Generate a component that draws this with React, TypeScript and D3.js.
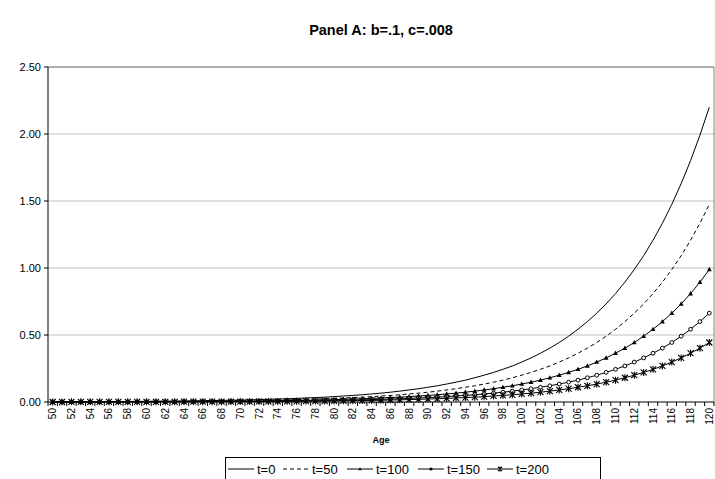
import React from 'react'
import * as d3 from 'd3'

// ages 50..120
const ages = d3.range(50, 121)

const t0 = [0.002, 0.002, 0.002, 0.003, 0.003, 0.003, 0.004, 0.004, 0.004, 0.005, 0.005, 0.006, 0.007, 0.007, 0.008, 0.009, 0.010, 0.011, 0.012, 0.013, 0.015, 0.016, 0.018, 0.020, 0.022, 0.024, 0.027, 0.030, 0.033, 0.036, 0.040, 0.045, 0.049, 0.054, 0.060, 0.066, 0.073, 0.081, 0.090, 0.099, 0.110, 0.121, 0.134, 0.148, 0.163, 0.181, 0.200, 0.221, 0.244, 0.269, 0.298, 0.329, 0.364, 0.402, 0.444, 0.491, 0.543, 0.600, 0.663, 0.732, 0.809, 0.894, 0.989, 1.092, 1.207, 1.334, 1.475, 1.630, 1.801, 1.991, 2.200]

const t50 = [0.001, 0.001, 0.002, 0.002, 0.002, 0.002, 0.002, 0.003, 0.003, 0.003, 0.004, 0.004, 0.004, 0.005, 0.005, 0.006, 0.007, 0.007, 0.008, 0.009, 0.010, 0.011, 0.012, 0.013, 0.015, 0.016, 0.018, 0.020, 0.022, 0.024, 0.027, 0.030, 0.033, 0.036, 0.040, 0.045, 0.049, 0.054, 0.060, 0.066, 0.073, 0.081, 0.090, 0.099, 0.110, 0.121, 0.134, 0.148, 0.163, 0.181, 0.200, 0.221, 0.244, 0.269, 0.298, 0.329, 0.364, 0.402, 0.444, 0.491, 0.543, 0.600, 0.663, 0.732, 0.809, 0.894, 0.989, 1.092, 1.207, 1.334, 1.475]

const t100 = [0.001, 0.001, 0.001, 0.001, 0.001, 0.001, 0.002, 0.002, 0.002, 0.002, 0.002, 0.003, 0.003, 0.003, 0.004, 0.004, 0.004, 0.005, 0.005, 0.006, 0.007, 0.007, 0.008, 0.009, 0.010, 0.011, 0.012, 0.013, 0.015, 0.016, 0.018, 0.020, 0.022, 0.024, 0.027, 0.030, 0.033, 0.036, 0.040, 0.045, 0.049, 0.054, 0.060, 0.066, 0.073, 0.081, 0.090, 0.099, 0.110, 0.121, 0.134, 0.148, 0.163, 0.181, 0.200, 0.221, 0.244, 0.269, 0.298, 0.329, 0.364, 0.402, 0.444, 0.491, 0.543, 0.600, 0.663, 0.732, 0.809, 0.894, 0.989]

const t150 = [0.001, 0.001, 0.001, 0.001, 0.001, 0.001, 0.001, 0.001, 0.001, 0.001, 0.002, 0.002, 0.002, 0.002, 0.002, 0.003, 0.003, 0.003, 0.004, 0.004, 0.004, 0.005, 0.005, 0.006, 0.007, 0.007, 0.008, 0.009, 0.010, 0.011, 0.012, 0.013, 0.015, 0.016, 0.018, 0.020, 0.022, 0.024, 0.027, 0.030, 0.033, 0.036, 0.040, 0.045, 0.049, 0.054, 0.060, 0.066, 0.073, 0.081, 0.090, 0.099, 0.110, 0.121, 0.134, 0.148, 0.163, 0.181, 0.200, 0.221, 0.244, 0.269, 0.298, 0.329, 0.364, 0.402, 0.444, 0.491, 0.543, 0.600, 0.663]

const t200 = [0.000, 0.000, 0.001, 0.001, 0.001, 0.001, 0.001, 0.001, 0.001, 0.001, 0.001, 0.001, 0.001, 0.001, 0.002, 0.002, 0.002, 0.002, 0.002, 0.003, 0.003, 0.003, 0.004, 0.004, 0.004, 0.005, 0.005, 0.006, 0.007, 0.007, 0.008, 0.009, 0.010, 0.011, 0.012, 0.013, 0.015, 0.016, 0.018, 0.020, 0.022, 0.024, 0.027, 0.030, 0.033, 0.036, 0.040, 0.045, 0.049, 0.054, 0.060, 0.066, 0.073, 0.081, 0.090, 0.099, 0.110, 0.121, 0.134, 0.148, 0.163, 0.181, 0.200, 0.221, 0.244, 0.269, 0.298, 0.329, 0.364, 0.402, 0.444]

const seriesNames = ['t=0', 't=50', 't=100', 't=150', 't=200']
const seriesValues = [t0, t50, t100, t150, t200]
const markerTypes = ['none', 'none', 'triangle', 'circle', 'star']
const yTicks = [0, 0.5, 1, 1.5, 2, 2.5]

const W = 715
const H = 479
const font = 'Arial, "Liberation Sans", sans-serif'

const Marker = ({type, x, y, small}: {type: string, x: number, y: number, small?: boolean}) => {
    const s = small ? 0.7 : 1
    if (type === 'triangle') {
        return <path d={`M${x},${y - 2.6 * s}L${x + 2.4 * s},${y + 1.8 * s}L${x - 2.4 * s},${y + 1.8 * s}Z`} fill="#000" />
    }
    if (type === 'circle') {
        if (small) return <circle cx={x} cy={y} r={1.6} fill="#000" />
        return <circle cx={x} cy={y} r={1.9} fill="#fff" stroke="#000" strokeWidth={1} />
    }
    if (type === 'star') {
        const r = 3 * s
        return (
            <path d={`M${x - r},${y - r}L${x + r},${y + r}M${x - r},${y + r}L${x + r},${y - r}M${x},${y - r - 0.5}L${x},${y + r + 0.5}`}
                stroke="#000" strokeWidth={1.1} fill="none" />
        )
    }
    return null
}

const App = () => {
    const left = 48, right = 714, top = 67, bottom = 402

    const x = d3.scaleBand<number>().domain(ages).range([left, right]).padding(0)
    const y = d3.scaleLinear().domain([0, 2.5]).range([bottom, top])
    const cx = (a: number) => (x(a) as number) + x.bandwidth() / 2

    const line = d3.line<number>()
        .x((d, i) => cx(ages[i]))
        .y(d => y(d))

    const fmt = d3.format('.2f')

    // legend layout
    const legendItems = [
        {x: 228, tx: 257},
        {x: 283, tx: 312},
        {x: 347, tx: 376},
        {x: 418, tx: 447},
        {x: 487, tx: 516},
    ]

    return (
        <svg width={W} height={H} style={{position: 'absolute', left: 0, top: 0, background: '#fff'}} fontFamily={font}>
            <rect width={W} height={H} fill="#fff" />
            <text x={381} y={35} textAnchor="middle" fontSize={14.5} fontWeight="bold">Panel A: b=.1, c=.008</text>

            {/* gridlines */}
            {yTicks.filter(t => t > 0).map(t => (
                <line key={t} x1={left} x2={right} y1={y(t)} y2={y(t)} stroke="#c0c0c0" strokeWidth={1} />
            ))}
            {/* plot border top/right */}
            <line x1={left} x2={right} y1={top} y2={top} stroke="#808080" />
            <line x1={right} x2={right} y1={top} y2={bottom} stroke="#808080" />

            {/* y axis */}
            <line x1={left} x2={left} y1={top} y2={bottom} stroke="#000" />
            {yTicks.map(t => (
                <g key={t}>
                    <line x1={left - 4} x2={left} y1={y(t)} y2={y(t)} stroke="#000" />
                    <text x={left - 7} y={y(t) + 4} textAnchor="end" fontSize={11}>{fmt(t)}</text>
                </g>
            ))}

            {/* series */}
            {seriesValues.map((vals, si) => (
                <g key={si}>
                    <path d={line(vals) as string} fill="none" stroke="#000" strokeWidth={1}
                        strokeDasharray={si === 1 ? '4,3' : undefined} />
                    {markerTypes[si] !== 'none' && vals.map((v, i) => (
                        <Marker key={i} type={markerTypes[si]} x={cx(ages[i])} y={y(v)} />
                    ))}
                </g>
            ))}

            {/* x axis */}
            <line x1={left} x2={right} y1={bottom} y2={bottom} stroke="#000" />
            {ages.map(a => (
                <line key={a} x1={x(a) as number} x2={x(a) as number} y1={bottom} y2={bottom + 4} stroke="#000" />
            ))}
            <line x1={right} x2={right} y1={bottom} y2={bottom + 4} stroke="#000" />
            {ages.filter(a => a % 2 === 0).map(a => (
                <text key={a} transform={`translate(${cx(a) + 3.5},${bottom + 6}) rotate(-90)`}
                    textAnchor="end" fontSize={10}>{a}</text>
            ))}
            <text x={381} y={443} textAnchor="middle" fontSize={9} fontWeight="bold">Age</text>

            {/* legend */}
            <rect x={225.5} y={457.5} width={375} height={30} fill="#fff" stroke="#000" />
            {legendItems.map((it, i) => (
                <g key={i}>
                    <line x1={it.x} x2={it.x + 26} y1={469} y2={469} stroke="#000"
                        strokeDasharray={i === 1 ? '4,3' : undefined} />
                    <Marker type={markerTypes[i]} x={it.x + 13} y={469} small />
                    <text x={it.tx} y={474} fontSize={13}>{seriesNames[i]}</text>
                </g>
            ))}
        </svg>
    )
}

export default App
